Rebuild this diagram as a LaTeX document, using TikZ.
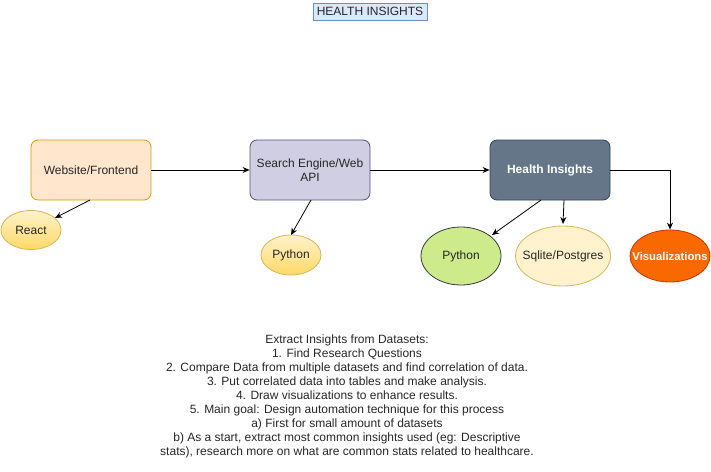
\documentclass[tikz,border=0pt]{standalone}
\usepackage{fontspec}
\setmainfont{Liberation Sans}
\usetikzlibrary{shapes.geometric,arrows.meta}
\definecolor{titlefill}{HTML}{DAE8FC}
\definecolor{titledraw}{HTML}{6C8EBF}
\definecolor{orfill}{HTML}{FFE6CC}
\definecolor{ordraw}{HTML}{D79B00}
\definecolor{pufill}{HTML}{D0CEE2}
\definecolor{pudraw}{HTML}{56517E}
\definecolor{slfill}{HTML}{647687}
\definecolor{sldraw}{HTML}{314354}
\definecolor{yefill}{HTML}{FFF2CC}
\definecolor{yefill2}{HTML}{FFD966}
\definecolor{yedraw}{HTML}{D6B656}
\definecolor{grfill}{HTML}{CDEB8B}
\definecolor{grdraw}{HTML}{36393D}
\definecolor{vifill}{HTML}{FA6800}
\definecolor{vidraw}{HTML}{C73500}
\begin{document}
\begin{tikzpicture}[x=1pt,y=-1pt,
  every node/.style={font=\fontsize{12}{14}\selectfont, inner sep=0pt, text=black!85},
  boxnode/.style={draw, rounded corners=7pt, minimum width=120pt, minimum height=60pt, align=center, line width=0.8pt},
  ellnode/.style={draw, ellipse, line width=0.8pt},
  arr/.style={-{Stealth[length=7pt,width=6pt]}, line width=0.8pt}
]
\useasboundingbox (0,0) rectangle (711,471);
\node[draw=titledraw, fill=titlefill, minimum width=114pt, minimum height=17pt, line width=0.8pt] (title) at (370,11.5) {HEALTH INSIGHTS};

\node[boxnode, draw=ordraw, fill=orfill] (web) at (91,170) {Website/Frontend};
\node[boxnode, draw=pudraw, fill=pufill] (search) at (310,170) {Search Engine/Web\\API};
\node[boxnode, draw=sldraw, fill=slfill, text=white, font=\fontsize{12}{14}\selectfont\bfseries] (health) at (550,170) {Health Insights};

\node[ellnode, draw=yedraw, top color=yefill, bottom color=yefill2, minimum width=60pt, minimum height=39pt] (react) at (31,230) {\makebox[0pt]{React}};
\node[ellnode, draw=yedraw, top color=yefill, bottom color=yefill2, minimum width=60pt, minimum height=40pt] (py1) at (291,255) {\makebox[0pt]{Python}};
\node[ellnode, draw=grdraw, fill=grfill, minimum width=80pt, minimum height=58pt] (py2) at (461,256) {\makebox[0pt]{Python}};
\node[ellnode, draw=yedraw, fill=yefill, minimum width=95pt, minimum height=60pt] (sql) at (563,256) {\makebox[0pt]{Sqlite/Postgres}};
\node[ellnode, draw=vidraw, fill=vifill, text=white, font=\fontsize{11.3}{14}\selectfont\bfseries, minimum width=80pt, minimum height=52pt] (vis) at (670,256) {\makebox[0pt]{Visualizations}};

\coordinate (webb) at (90,200);
\coordinate (searchb) at (311,200);
\coordinate (healthb1) at (541,200);
\coordinate (healthb2) at (564,200);
\draw[arr] (web.east) -- (search.west);
\draw[arr] (search.east) -- (health.west);
\draw[arr] (health.east) -| (vis.north);
\draw[arr] (webb) -- (55,218) coordinate (reactend);
\draw[arr] (searchb) -- (291,235);
\draw[arr] (healthb1) -- (492,235);
\draw[arr] (healthb2) -- (563,224);

\node[align=center, anchor=north] (notes) at (347,335) {Extract Insights from Datasets:\\
1. Find Research Questions\\
2. Compare Data from multiple datasets and find correlation of data.\\
3. Put correlated data into tables and make analysis.\\
4. Draw visualizations to enhance results.\\
5. Main goal: Design automation technique for this process\\
a) First for small amount of datasets\\
b) As a start, extract most common insights used (eg: Descriptive\\
stats), research more on what are common stats related to healthcare.};
\end{tikzpicture}
\end{document}
